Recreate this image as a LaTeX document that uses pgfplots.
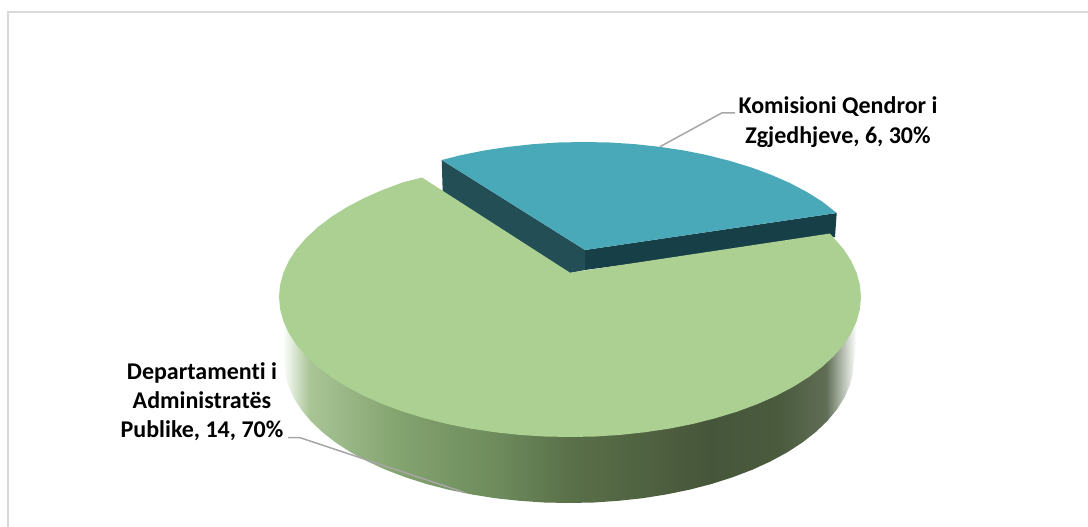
\documentclass[border=0pt]{standalone}
\usepackage{pgfplots}
\pgfplotsset{compat=1.18}
\usepackage{fontspec}
\setmainfont[Ligatures=NoCommon]{Carlito}
\definecolor{greenface}{HTML}{ABD092}
\definecolor{blueface}{HTML}{4AA9B8}
\definecolor{blueleft}{HTML}{234E56}
\definecolor{blueright}{HTML}{173F48}
\definecolor{leader}{HTML}{A6A6A6}
\definecolor{frameg}{HTML}{D9D9D9}
\definecolor{wallA}{HTML}{A9C596}
\definecolor{wallB}{HTML}{84A470}
\definecolor{wallC}{HTML}{6C8A5B}
\definecolor{wallD}{HTML}{5A7049}
\definecolor{wallE}{HTML}{46563A}
\definecolor{wallF}{HTML}{4B5B3E}
\definecolor{wallG}{HTML}{5F6E55}
\pgfdeclarehorizontalshading{wallshade}{100bp}{
 color(0bp)=(white);
 color(25.3bp)=(white);
 color(27.6bp)=(wallA);
 color(35bp)=(wallB);
 color(44bp)=(wallC);
 color(50bp)=(wallD);
 color(62bp)=(wallE);
 color(68bp)=(wallF);
 color(72bp)=(wallG);
 color(74.6bp)=(white);
 color(100bp)=(white)}
\begin{document}
\begin{tikzpicture}
\useasboundingbox (0,0) rectangle (1088pt,527pt);
\begin{axis}[
  at={(0,0)}, anchor=south west,
  width=1088pt, height=527pt, scale only axis,
  xmin=0, xmax=1088, ymin=0, ymax=527, y dir=reverse,
  hide axis, clip=true]
% frame
\addplot[frameg, line width=1.8pt] coordinates {(8,527) (8,12) (1088,12)};
% side wall of the large slice
\addplot[draw=none, shading=wallshade] coordinates {
(279,297) (284,361) (285.1,373.4) (288.3,385.7) (293.7,397.8) (301.2,409.6) (310.7,421) (322.2,432) (335.5,442.4) (350.7,452.3) (367.5,461.4) (385.8,469.8) (405.5,477.3) (426.5,484) (448.6,489.7) (471.5,494.4) (495.2,498.2) (519.5,500.8) (544.1,502.5) (569,503)
(593.9,502.5) (618.5,500.8) (642.8,498.2) (666.5,494.4) (689.4,489.7) (711.5,484) (732.5,477.3) (752.2,469.8) (770.5,461.4) (787.3,452.3) (802.5,442.4) (815.8,432) (827.3,421) (836.8,409.6) (844.3,397.8) (849.7,385.7) (852.9,373.4) (854,361) (861,297)
} --cycle;
% small slice walls
\addplot[draw=none, fill=blueleft] coordinates {(441.7,160) (585,250) (585,270) (570,273) (442.7,192)} --cycle;
\addplot[draw=none, fill=blueright] coordinates {(585,250) (836.7,213) (835,237) (585,270)} --cycle;
% small slice top
\addplot[draw=none, fill=blueface] coordinates {
(441.7,160) (461,155.1) (484.5,150.4) (508.7,146.8) (533.5,144.1) (558.6,142.5) (584,142) (609.4,142.5) (634.5,144.1) (659.3,146.8) (683.5,150.4) (707,155.1) (729.5,160.8) (750.9,167.3) (771.1,174.8) (789.8,183) (806.9,192) (822.4,201.7) (836.7,213) (585,250)
} --cycle;
% large slice top
\addplot[draw=none, fill=greenface] coordinates {
(570,272.7) (422,177.5) (403.1,182.3) (382.9,189.8) (364.2,198) (347.1,207) (331.6,216.7) (318,227) (306.3,237.8) (296.5,249.1) (288.9,260.8) (283.4,272.7) (280.1,284.8) (279,297)
(280.1,309.2) (283.4,321.3) (288.9,333.2) (296.5,344.9) (306.3,356.2) (318,367) (331.6,377.3) (347.1,387) (364.2,396) (382.9,404.2) (403.1,411.7) (424.5,418.2) (447,423.9) (470.5,428.6) (494.7,432.2) (519.5,434.9) (544.6,436.5) (570,437)
(595.4,436.5) (620.5,434.9) (645.3,432.2) (669.5,428.6) (693,423.9) (715.5,418.2) (736.9,411.7) (757.1,404.2) (775.8,396) (792.9,387) (808.4,377.3) (822,367) (833.7,356.2) (843.5,344.9) (851.1,333.2) (856.6,321.3) (859.9,309.2) (861,297)
(859.9,284.8) (856.6,272.7) (851.1,260.8) (843.5,249.1) (833.7,237.8) (830,233.5)
} --cycle;
% leaders
\addplot[leader, line width=1.5pt] coordinates {(735,113) (721.7,113) (660,146.7)};
\addplot[leader, line width=1.5pt] coordinates {(288,437.7) (300,437.7) (465,492.7)};
% labels
\node[font=\fontsize{24}{30}\selectfont\bfseries, align=center, text=black, inner sep=0pt] at (axis cs:838,122) {Komisioni Qendror i\\Zgjedhjeve, 6, 30\%};
\node[font=\fontsize{24}{29}\selectfont\bfseries, align=center, text=black, inner sep=0pt] at (axis cs:202,402) {Departamenti i\\Administratës\\Publike, 14, 70\%};
\end{axis}
\end{tikzpicture}
\end{document}
